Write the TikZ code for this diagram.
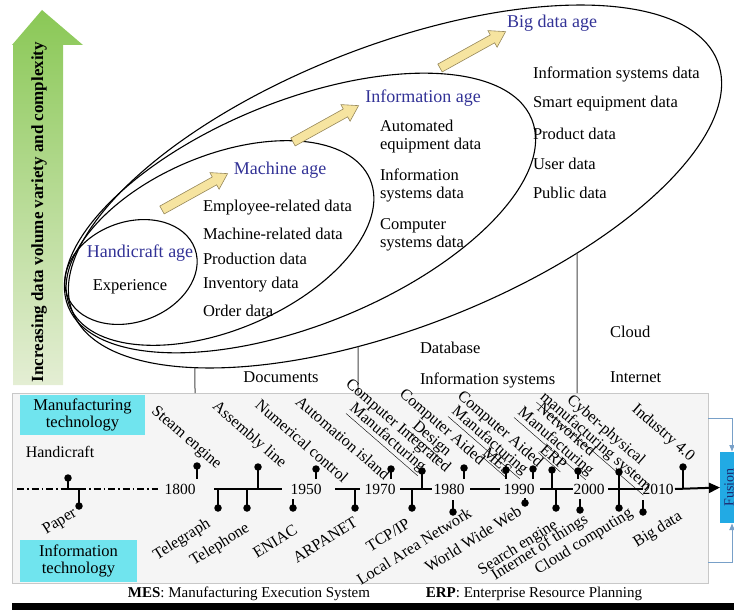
\documentclass[tikz,border=0pt]{standalone}
\usepackage{fontspec}
\setmainfont{Liberation Serif}
\usetikzlibrary{arrows.meta,intersections}
\definecolor{agecol}{RGB}{50,50,150}
\definecolor{cyanbox}{RGB}{112,228,238}
\definecolor{fusionblue}{RGB}{34,170,228}
\definecolor{fusiontext}{RGB}{30,40,110}
\definecolor{panelfill}{RGB}{245,245,245}
\definecolor{panelline}{RGB}{200,200,200}
\definecolor{yfill}{RGB}{246,228,160}
\definecolor{yline}{RGB}{150,135,90}
\definecolor{gtop}{RGB}{138,200,86}
\definecolor{gmid}{RGB}{185,222,150}
\definecolor{gbot}{RGB}{228,238,212}
\definecolor{loopcol}{RGB}{120,160,200}
\definecolor{connline}{RGB}{70,70,70}
\begin{document}
\begin{tikzpicture}[x=1pt,y=-1pt,
  every node/.style={inner sep=0pt,outer sep=0pt},
  era/.style={font=\fontsize{18}{20}\selectfont,text=agecol},
  body/.style={font=\fontsize{16.5}{18.5}\selectfont,anchor=west,align=left},
  tl/.style={font=\fontsize{16}{15.5}\selectfont},
  toplab/.style={tl,rotate=-41,align=center},
  botlab/.style={tl,rotate=32},
  yearlab/.style={font=\fontsize{15.5}{15}\selectfont},
  dot/.style={circle,fill=black,minimum size=7.5pt},
  stem/.style={line width=1.3pt},
  axis/.style={line width=2pt},
  ell/.style={line width=1.1pt},
  conn/.style={line width=1pt,draw=connline},
  yarrow/.style={fill=yfill,draw=yline,line width=0.6pt},
  techbox/.style={fill=cyanbox,font=\fontsize{16.5}{17}\selectfont,align=center},
]
\useasboundingbox (0,0) rectangle (734,610);
\begin{scope}
\clip (0,0) rectangle (734,610);

% ---------- rising arrow on the left ----------
\shade[top color=gtop,middle color=gmid,bottom color=gbot]
  (13,385) -- (13,45) -- (12,45) -- (42,10) -- (83,45) -- (63,45) -- (63,385) -- cycle;
\node[rotate=90,font=\fontsize{17}{17}\selectfont\bfseries] (risetxt) at (39,212)
  {Increasing data volume variety and complexity};

% ---------- nested eras ----------
\begin{scope}[shift={(395,186.5)},rotate=21.2]
  \draw[ell,name path global=bigE] (0,0) ellipse [x radius=346pt,y radius=141pt];
\end{scope}
\begin{scope}[shift={(300,213)},rotate=22]
  \draw[ell] (0,0) ellipse [x radius=250pt,y radius=112pt];
\end{scope}
\begin{scope}[shift={(220,243)},rotate=23]
  \draw[ell] (0,0) ellipse [x radius=163pt,y radius=87pt];
\end{scope}
\begin{scope}[shift={(131,272)},rotate=20]
  \draw[ell] (0,0) ellipse [x radius=68pt,y radius=50pt];
\end{scope}

% transition arrows between eras
\foreach \tx/\ty in {162/210, 293/142, 440/68}{
  \begin{scope}[shift={(\tx,\ty)},rotate=29]
    \draw[yarrow] (0,-4.5) -- (60,-4.5) -- (60,-9.5) -- (75,0) -- (60,9.5) -- (60,4.5) -- (0,4.5) -- cycle;
  \end{scope}
}

% era titles and their data
\node[era] (handage) at (140,253) {Handicraft age};
\node[font=\fontsize{16.5}{18}\selectfont] (exper) at (130,287) {Experience};

\node[era] (machage) at (280,170) {Machine age};
\node[body] (m1) at (203,208) {Employee-related data};
\node[body] (m2) at (203,234) {Machine-related data};
\node[body] (m3) at (203,259) {Production data};
\node[body] (m4) at (203,285) {Inventory data};
\node[body] (m5) at (203,311) {Order data};

\node[era] (infoage) at (423,98) {Information age};
\node[body] (i1) at (380,136.5) {Automated\\equipment data};
\node[body] (i2) at (380,185.5) {Information\\systems data};
\node[body] (i3) at (380,235) {Computer\\systems data};

\node[era] (bigage) at (552,23) {Big data age};
\node[body] (b1) at (533,74) {Information systems data};
\node[body] (b2) at (533,104) {Smart equipment data};
\node[body] (b3) at (533,134) {Product data};
\node[body] (b4) at (533,164) {User data};
\node[body] (b5) at (533,193) {Public data};

% ---------- timeline panel ----------
\draw[fill=panelfill,draw=panelline,line width=0.8pt] (12,393) rectangle (708,583);

% links from the eras down to the panel
\foreach \nm/\vx in {A/195,B/358,C/577}{
  \path[name path=vl\nm] (\vx,150) -- (\vx,400);
  \path[name intersections={of=bigE and vl\nm,by={e\nm}}];
  \coordinate (p\nm) at (\vx,393);
  \draw[conn] (e\nm) -- (p\nm);
}
\node[body,anchor=center] (docs) at (281,377) {Documents};
\node[body] (dbase) at (420,348) {Database};
\node[body] (infsys) at (420,380) {Information systems};
\node[body] (cloud) at (610,332) {Cloud};
\node[body] (inet) at (610,377) {Internet};

\node[techbox,minimum width=125pt,minimum height=40pt] (mtech) at (82.5,415) {Manufacturing\\technology};
\node[techbox,minimum width=117pt,minimum height=42pt] (itech) at (78.5,561) {Information\\technology};

% axis
\draw[axis,line width=1.6pt,dash pattern=on 7pt off 3pt on 1.5pt off 3pt] (17,489) -- (68,489);
\draw[axis,line width=1.6pt] (68,489) -- (79,489);
\draw[axis,line width=1.6pt,dash pattern=on 7pt off 3pt on 1.5pt off 3pt] (79,489) -- (158,489);
\node[yearlab] (y1800) at (180,489) {1800};
\node[yearlab] (y1950) at (306,489) {1950};
\node[yearlab] (y1970) at (380,489) {1970};
\node[yearlab] (y1980) at (449,489) {1980};
\node[yearlab] (y1990) at (519,489) {1990};
\node[yearlab] (y2000) at (589,489) {2000};
\node[yearlab] (y2010) at (658,489) {2010};
\draw[axis] (214,489) -- (282,489);
\draw[axis] (335,489) -- (360,489);
\draw[axis] (400,489) -- (432,489);
\draw[axis] (470,489) -- (500,489);
\draw[axis] (540,489) -- (573,489);
\draw[axis] (608,489) -- (643,489);

% fusion block and its feedback lines
\node[fill=fusionblue,minimum width=20pt,minimum height=71pt] (fusion) at (730,487.5) {};
\node[rotate=90,text=fusiontext,font=\fontsize{14}{14}\selectfont] (fusiontxt) at (729,487.5) {Fusion};
\coordinate (ind) at (675,489);
\draw[axis,-{Triangle[length=11pt,width=10pt]}] (ind) -- (fusion.west);
\coordinate (loopA) at (708,418);
\coordinate (loopB) at (708,562);
\draw[loopcol,line width=1pt,-{Latex[length=7pt,width=6pt]}] (loopA) -| ([xshift=2pt]fusion.north);
\draw[loopcol,line width=1pt,-{Latex[length=7pt,width=6pt]}] (loopB) -| ([xshift=2pt]fusion.south);

% events above the axis: name/x/dot y/stem end
\foreach \nm/\x/\y/\e in {hand/68/478/489, steam/197/466/479, assem/258/467/489,
    numc/316/469/479, autoi/391/469/479, cim/422/471/489, cad/464/468/479,
    mes/506/470/479, cam/533/469/479, erp/552/470/489, netm/578/471/479,
    cps/619/472/489, indf/683/467/489}{
  \node[dot] (t\nm) at (\x,\y) {};
  \draw[stem] (t\nm.center) -- (\x,\e);
}
% events below the axis
\foreach \nm/\x/\y/\s in {paper/79/506/489, tgraph/218/508/489, tphone/247/508/489,
    eniac/293/508/499, arpa/355/508/489, tcp/412/508/489, lan/453/512/500,
    www/525/503/498, search/556/508/489, iot/580/510/499, cloudc/619/508/489,
    bigd/643/512/500}{
  \node[dot] (b\nm) at (\x,\y) {};
  \draw[stem] (\x,\s) -- (b\nm.center);
}

% labels of the events
\node[tl] (lhand) at (60,452) {Handicraft};
\node[toplab] (lsteam) at (186,438) {Steam engine};
\node[toplab] (lassem) at (249,435) {Assembly line};
\node[toplab] (lnumc) at (302,441) {Numerical control};
\node[toplab] (lautoi) at (343,438) {Automation island};
\node[toplab] (lcim) at (392,433) {Computer Integrated\\\underline{Manufacturing}};
\node[toplab] (lcad) at (436,434) {Computer Aided\\\underline{Design}};
\node[toplab] (lcam) at (494,436) {Computer Aided\\\underline{Manufacturing}};
\node[toplab] (lmes) at (497,462) {\underline{MES}};
\node[toplab] (lerp) at (553,458) {\underline{ERP}};
\node[toplab] (lnetm) at (560,437) {Networked\\\underline{Manufacturing}};
\node[toplab] (lcps) at (600,437) {Cyber-physical\\\underline{manufacturing system}};
\node[toplab] (lindf) at (663,433) {Industry 4.0};

\node[botlab] (lpaper) at (60,522) {Paper};
\node[botlab] (ltgraph) at (182,540) {Telegraph};
\node[botlab] (ltphone) at (220,545) {Telephone};
\node[botlab] (leniac) at (275,541) {ENIAC};
\node[botlab] (larpa) at (325,540) {ARPANET};
\node[botlab] (ltcp) at (388,535) {TCP/IP};
\node[botlab] (llan) at (414,546) {Local Area Network};
\node[botlab] (lwww) at (473,539) {World Wide Web};
\node[botlab] (lsearch) at (518,548) {Search engine};
\node[botlab] (liot) at (540,548) {Internet of things};
\node[botlab] (lcloudc) at (584,542) {Cloud computing};
\node[botlab] (lbigd) at (658,530) {Big data};

% ---------- abbreviations ----------
\node[font=\fontsize{15}{15}\selectfont] (fnmes) at (249,594) {\textbf{MES}: Manufacturing Execution System};
\node[font=\fontsize{15}{15}\selectfont] (fnerp) at (534,594) {\textbf{ERP}: Enterprise Resource Planning};
\fill (12,603) rectangle (734,610);
\end{scope}
\end{tikzpicture}
\end{document}
